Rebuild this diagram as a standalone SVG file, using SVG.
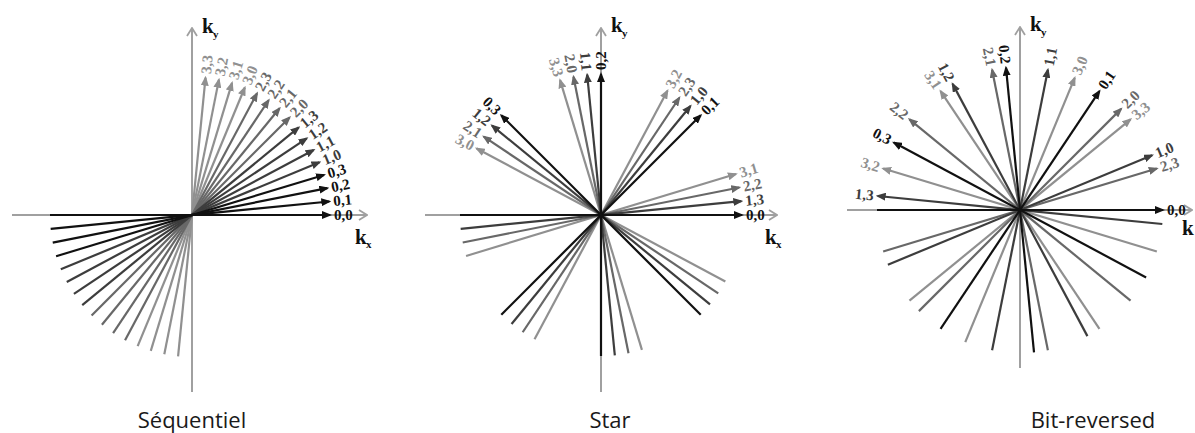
<svg xmlns="http://www.w3.org/2000/svg" width="1195" height="433" viewBox="0 0 1195 433">
<style>
.ax{stroke:#a0a0a0;stroke-width:2;fill:none;marker-end:url(#mx)}
.r{stroke-width:2.2;fill:none}
.r0{stroke:#111;marker-end:url(#m0)}
.r1{stroke:#3d3d3d;marker-end:url(#m1)}
.r2{stroke:#686868;marker-end:url(#m2)}
.r3{stroke:#909090;marker-end:url(#m3)}
.lb{font-family:"Liberation Serif","Times New Roman",serif;font-weight:bold;font-size:15px}
.e{text-anchor:end}
.t0{fill:#111}.t1{fill:#3d3d3d}.t2{fill:#686868}.t3{fill:#909090}
.k{font-family:"Liberation Serif","Times New Roman",serif;font-weight:bold;font-size:21px;fill:#111}
.ks{font-family:"Liberation Serif","Times New Roman",serif;font-weight:bold;font-size:11px;fill:#111}
.cap{font-family:"Open Sans","Liberation Sans",sans-serif;font-size:22px;fill:#1a1a1a;text-anchor:middle}
</style>
<defs>
<marker id="m0" viewBox="0 0 10 8" refX="8" refY="4" markerWidth="10" markerHeight="8" markerUnits="userSpaceOnUse" orient="auto"><path d="M0,0 L10,4 L0,8 z" fill="#111"/></marker>
<marker id="m1" viewBox="0 0 10 8" refX="8" refY="4" markerWidth="10" markerHeight="8" markerUnits="userSpaceOnUse" orient="auto"><path d="M0,0 L10,4 L0,8 z" fill="#3d3d3d"/></marker>
<marker id="m2" viewBox="0 0 10 8" refX="8" refY="4" markerWidth="10" markerHeight="8" markerUnits="userSpaceOnUse" orient="auto"><path d="M0,0 L10,4 L0,8 z" fill="#686868"/></marker>
<marker id="m3" viewBox="0 0 10 8" refX="8" refY="4" markerWidth="10" markerHeight="8" markerUnits="userSpaceOnUse" orient="auto"><path d="M0,0 L10,4 L0,8 z" fill="#909090"/></marker>
<marker id="mx" viewBox="0 0 10 12" refX="9" refY="6" markerWidth="10" markerHeight="12" markerUnits="userSpaceOnUse" orient="auto"><path d="M1,1 L9,6 L1,11" fill="none" stroke="#a0a0a0" stroke-width="1.8"/></marker>
</defs>
<rect width="1195" height="433" fill="#fff"/>

<g id="sequentiel">
<g id="seq-axes">
<line class="ax" x1="12" y1="215" x2="367" y2="215"/>
<line class="ax" x1="192" y1="392" x2="192" y2="28"/>
</g>
<g id="seq-connectors">
<line class="r r3" x1="137.66" y1="346.19" x2="244.81" y2="87.50"/>
<line class="r r3" x1="150.78" y1="350.89" x2="232.06" y2="82.94"/>
<line class="r r3" x1="164.30" y1="354.27" x2="218.92" y2="79.65"/>
<line class="r r3" x1="178.08" y1="356.32" x2="205.53" y2="77.67"/>
<line class="r r2" x1="91.59" y1="315.41" x2="289.58" y2="117.42"/>
<line class="r r2" x1="101.92" y1="324.77" x2="279.55" y2="108.32"/>
<line class="r r2" x1="113.11" y1="333.07" x2="268.67" y2="100.26"/>
<line class="r r2" x1="125.06" y1="340.23" x2="257.05" y2="93.30"/>
<line class="r r1" x1="60.81" y1="269.34" x2="319.50" y2="162.19"/>
<line class="r r1" x1="66.77" y1="281.94" x2="313.70" y2="149.95"/>
<line class="r r1" x1="73.93" y1="293.89" x2="306.74" y2="138.33"/>
<line class="r r1" x1="82.23" y1="305.08" x2="298.68" y2="127.45"/>
<line class="r r0" x1="50" y1="215" x2="330" y2="215"/>
<line class="r r0" x1="50.68" y1="228.92" x2="329.33" y2="201.47"/>
<line class="r r0" x1="52.73" y1="242.70" x2="327.35" y2="188.08"/>
<line class="r r0" x1="56.11" y1="256.22" x2="324.06" y2="174.94"/>
</g>
<g id="seq-labels" class="lb">
<text class="t0" transform="translate(330,215) rotate(0)" x="4" y="5">0,0</text>
<text class="t0" transform="translate(329.33,201.47) rotate(-5.625)" x="4" y="5">0,1</text>
<text class="t0" transform="translate(327.35,188.08) rotate(-11.25)" x="4" y="5">0,2</text>
<text class="t0" transform="translate(324.06,174.94) rotate(-16.875)" x="4" y="5">0,3</text>
<text class="t1" transform="translate(319.50,162.19) rotate(-22.5)" x="4" y="5">1,0</text>
<text class="t1" transform="translate(313.70,149.95) rotate(-28.125)" x="4" y="5">1,1</text>
<text class="t1" transform="translate(306.74,138.33) rotate(-33.75)" x="4" y="5">1,2</text>
<text class="t1" transform="translate(298.68,127.45) rotate(-39.375)" x="4" y="5">1,3</text>
<text class="t2" transform="translate(289.58,117.42) rotate(-45)" x="4" y="5">2,0</text>
<text class="t2" transform="translate(279.55,108.32) rotate(-50.625)" x="4" y="5">2,1</text>
<text class="t2" transform="translate(268.67,100.26) rotate(-56.25)" x="4" y="5">2,2</text>
<text class="t2" transform="translate(257.05,93.30) rotate(-61.875)" x="4" y="5">2,3</text>
<text class="t3" transform="translate(244.81,87.50) rotate(-67.5)" x="4" y="5">3,0</text>
<text class="t3" transform="translate(232.06,82.94) rotate(-73.125)" x="4" y="5">3,1</text>
<text class="t3" transform="translate(218.92,79.65) rotate(-78.75)" x="4" y="5">3,2</text>
<text class="t3" transform="translate(205.53,77.67) rotate(-84.375)" x="4" y="5">3,3</text>
</g>
<text class="k" x="202" y="33">k</text><text class="ks" x="213" y="38">y</text>
<text class="k" x="355" y="244">k</text><text class="ks" x="366" y="248">x</text>
<text class="cap" x="192" y="428">Séquentiel</text>
</g>

<g id="star">
<g id="star-axes">
<line class="ax" x1="425" y1="215" x2="777" y2="215"/>
<line class="ax" x1="601" y1="392" x2="601" y2="28"/>
</g>
<g id="star-connectors">
<line class="r r3" x1="466.07" y1="255.93" x2="735.93" y2="174.07"/>
<line class="r r3" x1="534.53" y1="339.35" x2="667.47" y2="90.65"/>
<line class="r r3" x1="641.93" y1="349.93" x2="560.07" y2="80.07"/>
<line class="r r3" x1="725.35" y1="281.47" x2="476.65" y2="148.53"/>
<line class="r r2" x1="462.71" y1="242.51" x2="739.29" y2="187.49"/>
<line class="r r2" x1="522.66" y1="332.24" x2="679.34" y2="97.76"/>
<line class="r r2" x1="628.51" y1="353.29" x2="573.49" y2="76.71"/>
<line class="r r2" x1="718.24" y1="293.34" x2="483.76" y2="136.66"/>
<line class="r r1" x1="460.68" y1="228.82" x2="741.32" y2="201.18"/>
<line class="r r1" x1="511.55" y1="324.00" x2="690.45" y2="106.00"/>
<line class="r r1" x1="614.82" y1="355.32" x2="587.18" y2="74.68"/>
<line class="r r1" x1="710.00" y1="304.45" x2="492.00" y2="125.55"/>
<line class="r r0" x1="460" y1="215" x2="742" y2="215"/>
<line class="r r0" x1="501.30" y1="314.70" x2="700.70" y2="115.30"/>
<line class="r r0" x1="601" y1="356" x2="601" y2="74"/>
<line class="r r0" x1="700.70" y1="314.70" x2="501.30" y2="115.30"/>
</g>
<g id="star-labels" class="lb">
<text class="t0" transform="translate(742,215) rotate(0)" x="4" y="5">0,0</text>
<text class="t1" transform="translate(741.32,201.18) rotate(-5.625)" x="4" y="5">1,3</text>
<text class="t2" transform="translate(739.29,187.49) rotate(-11.25)" x="4" y="5">2,2</text>
<text class="t3" transform="translate(735.93,174.07) rotate(-16.875)" x="4" y="5">3,1</text>
<text class="t0" transform="translate(700.70,115.30) rotate(-45)" x="4" y="5">0,1</text>
<text class="t1" transform="translate(690.45,106.00) rotate(-50.625)" x="4" y="5">1,0</text>
<text class="t2" transform="translate(679.34,97.76) rotate(-56.25)" x="4" y="5">2,3</text>
<text class="t3" transform="translate(667.47,90.65) rotate(-61.875)" x="4" y="5">3,2</text>
<text class="t0" transform="translate(601,74) rotate(-90)" x="4" y="5">0,2</text>
<text class="t1 e" transform="translate(587.18,74.68) rotate(84.375)" x="-4" y="5">1,1</text>
<text class="t2 e" transform="translate(573.49,76.71) rotate(78.75)" x="-4" y="5">2,0</text>
<text class="t3 e" transform="translate(560.07,80.07) rotate(73.125)" x="-4" y="5">3,3</text>
<text class="t0 e" transform="translate(501.30,115.30) rotate(45)" x="-4" y="5">0,3</text>
<text class="t1 e" transform="translate(492.00,125.55) rotate(39.375)" x="-4" y="5">1,2</text>
<text class="t2 e" transform="translate(483.76,136.66) rotate(33.75)" x="-4" y="5">2,1</text>
<text class="t3 e" transform="translate(476.65,148.53) rotate(28.125)" x="-4" y="5">3,0</text>
</g>
<text class="k" x="611" y="32">k</text><text class="ks" x="622" y="37">y</text>
<text class="k" x="765" y="244">k</text><text class="ks" x="776" y="248">x</text>
<text class="cap" x="610" y="428">Star</text>
</g>

<g id="bit-reversed">
<g id="bit-axes">
<line class="ax" x1="847" y1="210" x2="1192" y2="210"/>
<line class="ax" x1="1020" y1="368" x2="1020" y2="27"/>
</g>
<g id="bit-connectors">
<line class="r r3" x1="909.46" y1="300.72" x2="1130.54" y2="119.28"/>
<line class="r r3" x1="965.28" y1="342.11" x2="1074.72" y2="77.89"/>
<line class="r r3" x1="1099.45" y1="328.90" x2="940.55" y2="91.10"/>
<line class="r r3" x1="1156.84" y1="251.51" x2="883.16" y2="168.49"/>
<line class="r r2" x1="883.16" y1="251.51" x2="1156.84" y2="168.49"/>
<line class="r r2" x1="918.88" y1="311.12" x2="1121.12" y2="108.88"/>
<line class="r r2" x1="1047.90" y1="350.25" x2="992.10" y2="69.75"/>
<line class="r r2" x1="1130.54" y1="300.72" x2="909.46" y2="119.28"/>
<line class="r r1" x1="887.89" y1="264.72" x2="1152.11" y2="155.28"/>
<line class="r r1" x1="992.10" y1="350.25" x2="1047.90" y2="69.75"/>
<line class="r r1" x1="1087.41" y1="336.11" x2="952.59" y2="83.89"/>
<line class="r r1" x1="1162.31" y1="224.02" x2="877.69" y2="195.98"/>
<line class="r r0" x1="877" y1="210" x2="1163" y2="210"/>
<line class="r r0" x1="940.55" y1="328.90" x2="1099.45" y2="91.10"/>
<line class="r r0" x1="1034.02" y1="352.31" x2="1005.98" y2="67.69"/>
<line class="r r0" x1="1146.11" y1="277.41" x2="893.89" y2="142.59"/>
</g>
<g id="bit-labels" class="lb">
<text class="t0" transform="translate(1163,210) rotate(0)" x="4" y="5">0,0</text>
<text class="t2" transform="translate(1156.84,168.49) rotate(-16.875)" x="4" y="5">2,3</text>
<text class="t1" transform="translate(1152.11,155.28) rotate(-22.5)" x="4" y="5">1,0</text>
<text class="t3" transform="translate(1130.54,119.28) rotate(-39.375)" x="4" y="5">3,3</text>
<text class="t2" transform="translate(1121.12,108.88) rotate(-45)" x="4" y="5">2,0</text>
<text class="t0" transform="translate(1099.45,91.10) rotate(-56.25)" x="4" y="5">0,1</text>
<text class="t3" transform="translate(1074.72,77.89) rotate(-67.5)" x="4" y="5">3,0</text>
<text class="t1" transform="translate(1047.90,69.75) rotate(-78.75)" x="4" y="5">1,1</text>
<text class="t0 e" transform="translate(1005.98,67.69) rotate(84.375)" x="-4" y="5">0,2</text>
<text class="t2 e" transform="translate(992.10,69.75) rotate(78.75)" x="-4" y="5">2,1</text>
<text class="t1 e" transform="translate(952.59,83.89) rotate(61.875)" x="-4" y="5">1,2</text>
<text class="t3 e" transform="translate(940.55,91.10) rotate(56.25)" x="-4" y="5">3,1</text>
<text class="t2 e" transform="translate(909.46,119.28) rotate(39.375)" x="-4" y="5">2,2</text>
<text class="t0 e" transform="translate(893.89,142.59) rotate(28.125)" x="-4" y="5">0,3</text>
<text class="t3 e" transform="translate(883.16,168.49) rotate(16.875)" x="-4" y="5">3,2</text>
<text class="t1 e" transform="translate(877.69,195.98) rotate(5.625)" x="-4" y="5">1,3</text>
</g>
<text class="k" x="1030" y="31">k</text><text class="ks" x="1041" y="36">y</text>
<text class="k" x="1182" y="235">k</text>
<text class="cap" x="1093" y="428">Bit-reversed</text>
</g>
</svg>
